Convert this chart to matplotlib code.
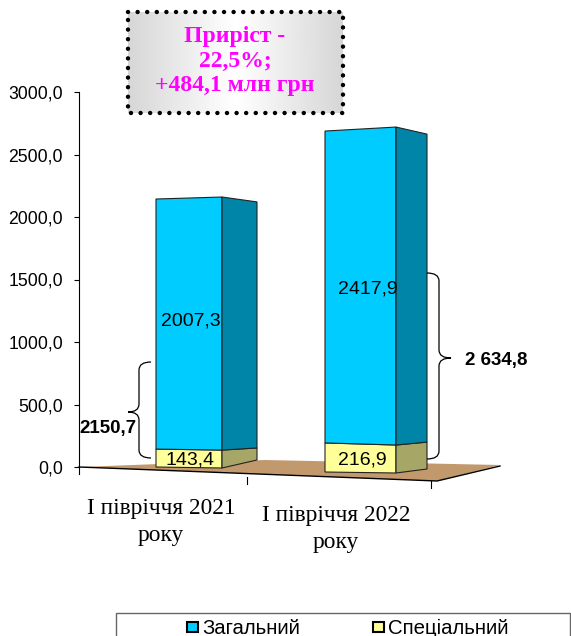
# coding: utf-8
import matplotlib.pyplot as plt
import numpy as np
from matplotlib.patches import PathPatch, Polygon, Rectangle
from matplotlib.path import Path

plt.rcParams["font.family"] = ["Liberation Sans", "DejaVu Sans"]

categories = ["І півріччя 2021\nроку", "І півріччя 2022\nроку"]
general = [2007.3, 2417.9]
special = [143.4, 216.9]
totals_text = ["2150,7", "2 634,8"]
y_ticks = [0, 500, 1000, 1500, 2000, 2500, 3000]

# picture pixels per unit on the value axis
PX = 0.125
Y0 = 467


def py(p):
    # pixel row -> value axis
    return (Y0 - p) / PX


fig = plt.figure(figsize=(5.71, 6.36), dpi=100)
ax = fig.add_axes([0, 0, 1, 1])

for s in ["top", "right", "bottom"]:
    ax.spines[s].set_visible(False)
ax.spines["left"].set_position(("data", 79))
ax.spines["left"].set_bounds(0, 3000)
ax.spines["left"].set_linewidth(0.8)
ax.set_xticks([])
ax.set_yticks(y_ticks)
ax.set_yticklabels([f"{v:.1f}".replace(".", ",") for v in y_ticks], fontsize=12.7)
ax.tick_params(axis="y", length=3.5, width=0.8, pad=8)

# floor
ax.add_patch(Polygon([(80, py(467)), (265, py(460)), (500, py(465)), (437, py(481))],
                     fc="#C2996C", ec="none", zorder=1))
ax.plot([79, 437, 500], [py(467), py(481), py(466)], color="k", lw=1, zorder=2)
for x, p in zip([79, 247, 431], [467, 477, 481]):
    ax.plot([x, x], [py(p), py(p + 7)], color="k", lw=0.8, zorder=2)

# front-left, front-right, side-right corners of each bar
bar_x = [[156, 222, 257], [325, 396, 427]]
bar_base = [[467, 468, 460], [472, 473, 469]]
k_special = [[0.125, 0.125, 0.084], [0.134, 0.129, 0.124]]
k_total = [[0.1246, 0.126, 0.12], [0.1294, 0.1313, 0.1271]]

for i in range(2):
    x = bar_x[i]
    base = np.array(bar_base[i], dtype=float)
    sep = base - special[i] * np.array(k_special[i])
    top = base - (special[i] + general[i]) * np.array(k_total[i])
    faces = [
        ([(x[0], base[0]), (x[1], base[1]), (x[1], sep[1]), (x[0], sep[0])], "#FFFF99"),
        ([(x[1], base[1]), (x[2], base[2]), (x[2], sep[2]), (x[1], sep[1])], "#A6A666"),
        ([(x[0], sep[0]), (x[1], sep[1]), (x[1], top[1]), (x[0], top[0])], "#00CCFF"),
        ([(x[1], sep[1]), (x[2], sep[2]), (x[2], top[2]), (x[1], top[1])], "#0085A8"),
    ]
    for pts, c in faces:
        ax.add_patch(Polygon([(a, py(b)) for a, b in pts], fc=c, ec="#222222", lw=0.8, zorder=3))

lab = dict(fontsize=14, ha="center", va="center", zorder=5)
ax.text(191, py(321), f"{general[0]:.1f}".replace(".", ","), **lab)
ax.text(368, py(289), f"{general[1]:.1f}".replace(".", ","), **lab)
ax.text(190, py(460), f"{special[0]:.1f}".replace(".", ","), **lab)
ax.text(362, py(460), f"{special[1]:.1f}".replace(".", ","), **lab)

ax.text(108, py(429), totals_text[0], fontsize=13.5, fontweight="bold", ha="center", va="center", zorder=5)
ax.text(496, py(360), totals_text[1], fontsize=13.5, fontweight="bold", ha="center", va="center", zorder=5)


def brace(x_end, x_mid, x_tip, p_top, p_tip, p_bot):
    r = 8
    verts = [
        (x_end, p_top), (x_mid, p_top), (x_mid, p_top + r),
        (x_mid, p_tip - r), (x_mid, p_tip), (x_tip, p_tip),
        (x_mid, p_tip), (x_mid, p_tip + r),
        (x_mid, p_bot - r), (x_mid, p_bot), (x_end, p_bot),
    ]
    codes = [Path.MOVETO, Path.CURVE3, Path.CURVE3, Path.LINETO, Path.CURVE3, Path.CURVE3,
             Path.CURVE3, Path.CURVE3, Path.LINETO, Path.CURVE3, Path.CURVE3]
    verts = [(a, py(b)) for a, b in verts]
    ax.add_patch(PathPatch(Path(verts, codes), fc="none", ec="k", lw=0.9, zorder=4))


brace(151, 139, 128, 362, 412, 458)
brace(427, 439, 451, 273, 358, 459)

# category labels
ax.text(161, py(522), categories[0], family="Liberation Serif", fontsize=16.8, ha="center",
        va="center", linespacing=1.32)
ax.text(336, py(529), categories[1], family="Liberation Serif", fontsize=16.8, ha="center",
        va="center", linespacing=1.32)

# note box with grey gradient, white in the middle
shade = 0.84 + 0.16 * (1 - np.abs(np.linspace(-1, 1, 256)))
ax.imshow(shade.reshape(1, -1), extent=[128, 343, py(113), py(12)], cmap="gray", vmin=0, vmax=1,
          aspect="auto", zorder=2)
ax.plot([128, 343, 343, 128, 128], [py(12), py(12), py(113), py(113), py(12)], color="k", lw=3.2,
        ls=(0, (0.01, 2.15)), dash_capstyle="round", zorder=3)
ax.text(235, py(61), "Приріст -\n22,5%;\n+484,1 млн грн", family="Liberation Serif", fontsize=17,
        fontweight="bold", color="#FF00FF", ha="center", va="center", linespacing=1.22, zorder=4)

# legend
ax.add_patch(Rectangle((116, py(660)), 454, py(613) - py(660), fc="white", ec="#666666", lw=1, zorder=2))
for x, c, t in [(187, "#00CCFF", "Загальний"), (373, "#FFFF99", "Спеціальний")]:
    ax.add_patch(Rectangle((x, py(632)), 11, py(622) - py(632), fc=c, ec="k", lw=1.5, zorder=3))
    ax.text(x + 15, py(628), t, fontsize=14.7, ha="left", va="center", zorder=3)

ax.set_xlim(0, 571)
ax.set_ylim(py(636), py(0))
fig.savefig("out.png", dpi=100)
